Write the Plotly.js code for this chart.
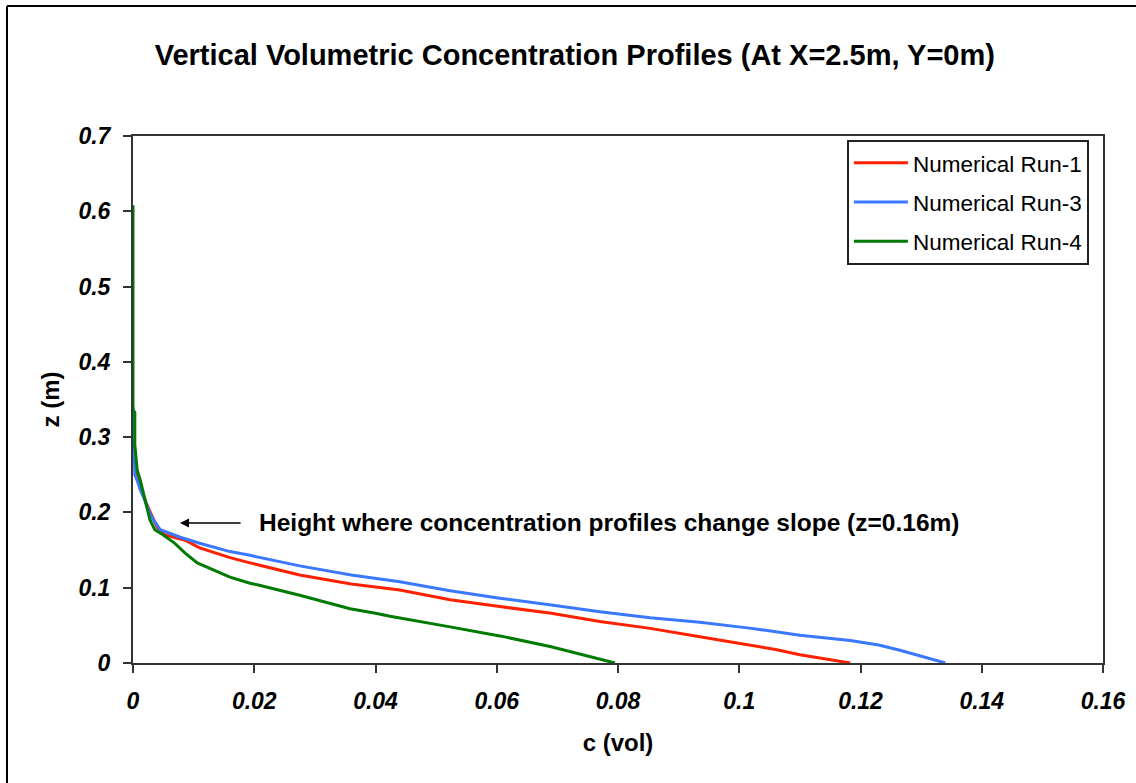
<!DOCTYPE html>
<html>
<head>
<meta charset="utf-8">
<script src="https://cdn.plot.ly/plotly-3.0.1.min.js"></script>
<style>
  html, body { margin: 0; padding: 0; background: #ffffff; }
  #chart { width: 1136px; height: 783px; }
</style>
</head>
<body>
<div id="chart"></div>
<script>
// Concentration c (vol) against height z (m) for each numerical run
const run1C = [0, 0.0003, 0.0008, 0.0014, 0.0022, 0.0040, 0.0053, 0.0086, 0.0110, 0.0160, 0.0193, 0.0275, 0.0360, 0.0440, 0.0523, 0.0605, 0.0690, 0.0770, 0.0853, 0.0935, 0.1018, 0.1060, 0.1100, 0.1140, 0.1183];
const run1Z = [0.300, 0.270, 0.245, 0.232, 0.212, 0.180, 0.170, 0.163, 0.153, 0.140, 0.133, 0.117, 0.105, 0.097, 0.084, 0.075, 0.066, 0.055, 0.046, 0.035, 0.024, 0.018, 0.011, 0.006, 0];

const run3C = [0, 0.0002, 0.0003, 0.0008, 0.0012, 0.0020, 0.0030, 0.0045, 0.0060, 0.0078, 0.0110, 0.0160, 0.0193, 0.0275, 0.0360, 0.0440, 0.0523, 0.0605, 0.0690, 0.0770, 0.0853, 0.0935, 0.1020, 0.1100, 0.1183, 0.1230, 0.1265, 0.1300, 0.1340];
const run3Z = [0.340, 0.276, 0.250, 0.240, 0.230, 0.215, 0.195, 0.177, 0.172, 0.167, 0.159, 0.148, 0.143, 0.129, 0.117, 0.108, 0.096, 0.086, 0.077, 0.068, 0.060, 0.054, 0.046, 0.037, 0.030, 0.024, 0.017, 0.009, 0];

const run4C = [0, 0, 0.0003, 0.0003, 0.0007, 0.0012, 0.0020, 0.0028, 0.0036, 0.0050, 0.0069, 0.0086, 0.0106, 0.0160, 0.0193, 0.0210, 0.0275, 0.0358, 0.0400, 0.0424, 0.0523, 0.0605, 0.0688, 0.0742, 0.0795];
const run4Z = [0.608, 0.336, 0.333, 0.290, 0.256, 0.243, 0.216, 0.190, 0.177, 0.170, 0.159, 0.146, 0.133, 0.114, 0.106, 0.103, 0.090, 0.072, 0.066, 0.062, 0.048, 0.036, 0.022, 0.011, 0];

const seriesNames = ['Numerical Run-1', 'Numerical Run-3', 'Numerical Run-4'];
const seriesColors = ['#ff2000', '#3a78ff', '#007a00'];

// Height at which the profiles change slope, and where the arrow points
const slopeNote = 'Height where concentration profiles change slope (z=0.16m)';
const arrowTip = [0.00775, 0.186];
const arrowTail = [0.0180, 0.186];
const noteStart = [0.0205, 0.186];

const FONT = 'Liberation Sans, Arial, sans-serif';

const traces = [
  [run1C, run1Z], [run3C, run3Z], [run4C, run4Z]
].map((d, i) => ({
  x: d[0], y: d[1],
  type: 'scatter', mode: 'lines',
  name: seriesNames[i],
  legendgroup: 'g' + i,
  line: { color: seriesColors[i], width: 3 }
}));

const tickFont = { family: FONT, size: 23, weight: 'bold', style: 'italic', color: '#000000' };

const layout = {
  width: 1136, height: 783,
  paper_bgcolor: '#ffffff', plot_bgcolor: '#ffffff',
  margin: { l: 133, r: 33, t: 136, b: 120 },
  font: { family: FONT, color: '#000000' },
  title: {
    text: 'Vertical Volumetric Concentration Profiles (At X=2.5m, Y=0m)',
    font: { family: FONT, size: 29, weight: 'bold', color: '#000000' },
    xref: 'container', x: 0.506, xanchor: 'center',
    yref: 'container', y: 0.93, yanchor: 'middle'
  },
  xaxis: {
    range: [0, 0.16], dtick: 0.02, tick0: 0,
    showgrid: false, zeroline: false,
    showline: true, linecolor: '#333333', linewidth: 2, mirror: true,
    ticks: 'outside', ticklen: 8, tickwidth: 2, tickcolor: '#333333',
    ticklabelstandoff: 8,
    tickfont: tickFont,
    title: { text: 'c (vol)', font: { family: FONT, size: 24, weight: 'bold' }, standoff: 22 }
  },
  yaxis: {
    range: [0, 0.7], dtick: 0.1, tick0: 0,
    showgrid: false, zeroline: false,
    showline: true, linecolor: '#333333', linewidth: 2, mirror: true,
    ticks: 'outside', ticklen: 8, tickwidth: 2, tickcolor: '#333333',
    ticklabelstandoff: 8,
    tickfont: tickFont,
    title: { text: 'z (m)', font: { family: FONT, size: 24, weight: 'bold' }, standoff: 12 }
  },
  showlegend: true,
  legend: {
    x: 0.736, y: 0.993, xanchor: 'left', yanchor: 'top',
    bgcolor: '#ffffff', bordercolor: '#222222', borderwidth: 2,
    font: { family: FONT, size: 22.5, color: '#000000' },
    itemwidth: 54,
    traceorder: 'grouped', tracegroupgap: 7
  },
  annotations: [
    {
      x: arrowTip[0], y: arrowTip[1], xref: 'x', yref: 'y',
      ax: arrowTail[0], ay: arrowTail[1], axref: 'x', ayref: 'y',
      text: '', showarrow: true, arrowhead: 2, arrowsize: 1.2, arrowwidth: 1.5, arrowcolor: '#000000'
    },
    {
      x: noteStart[0], y: noteStart[1], xref: 'x', yref: 'y',
      text: slopeNote, showarrow: false, xanchor: 'left', yanchor: 'middle',
      font: { family: FONT, size: 24.5, weight: 'bold', color: '#000000' }
    }
  ],
  shapes: [
    // outer frame, left and top edges
    { type: 'line', xref: 'paper', yref: 'paper', x0: -0.1299, x1: -0.1299, y0: 1.2467, y1: -0.25, line: { color: '#000000', width: 2 } },
    { type: 'line', xref: 'paper', yref: 'paper', x0: -0.1299, x1: 1.05, y0: 1.2467, y1: 1.2467, line: { color: '#000000', width: 2 } }
  ]
};

Plotly.newPlot('chart', traces, layout, { displayModeBar: false, staticPlot: true });
</script>
</body>
</html>
